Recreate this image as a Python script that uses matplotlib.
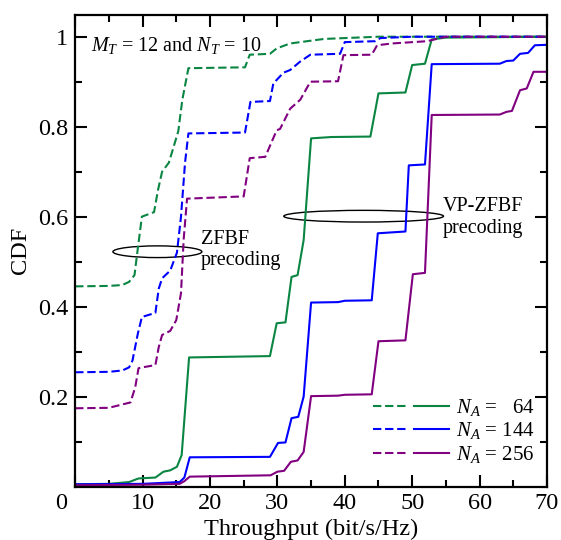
import matplotlib
matplotlib.use("Agg")
import matplotlib.pyplot as plt
from matplotlib.patches import Ellipse
from matplotlib.legend_handler import HandlerTuple
from matplotlib.transforms import ScaledTranslation

plt.rcParams['font.family'] = ['Liberation Serif', 'DejaVu Serif']
plt.rcParams['mathtext.fontset'] = 'custom'
plt.rcParams['mathtext.rm'] = 'Liberation Serif'
plt.rcParams['mathtext.it'] = 'Liberation Serif:italic'

# ---------------- data ----------------
zf64_x = [0, 5, 7, 8, 8.8, 9.3, 9.9, 11.7, 12.3, 12.9, 13.9, 14.5, 15.3, 15.9, 16.8,
          25.2, 25.9, 28.9, 29.9, 31.9, 33.4, 36.9, 40, 45, 70]
zf64_y = [.445, .446, .448, .455, .47, .53, .60, .61, .66, .70, .72, .75, .79, .86, .93,
          .932, .96, .962, .974, .985, .988, .995, .997, 1, 1]

zf144_x = [0, 5, 7, 8, 8.5, 9.3, 9.9, 11.9, 12.4, 12.9, 14.1, 15.1, 15.7, 16.3, 16.8,
           25.2, 26, 28.9, 29.4, 30.9, 31.9, 33.4, 34.9, 39.3, 40, 44.5, 45.3, 50, 70]
zf144_y = [.254, .255, .258, .265, .28, .34, .377, .386, .44, .463, .48, .52, .6, .72, .785,
           .787, .855, .857, .896, .92, .926, .945, .96, .962, .988, .99, .997, 1, 1]

zf256_x = [0, 5, 8.2, 8.9, 9.4, 10, 11.9, 12.4, 12.9, 14.1, 15, 15.7, 16.1, 16.6,
           25, 25.9, 28.2, 29.9, 30.4, 31.9, 33.4, 34.9, 39, 39.8, 44, 44.8, 47, 52.2, 55, 70]
zf256_y = [.174, .175, .187, .22, .263, .265, .27, .31, .337, .346, .37, .43, .55, .64,
           .645, .73, .733, .792, .795, .84, .86, .9, .901, .959, .96, .981, .985, .99, 1, 1]

vp64_x = [0, 5, 8, 9.4, 11.9, 13.1, 14.1, 15.1, 15.8, 16.9, 28.9, 29.9, 31.2, 32.1, 33,
          33.9, 35, 38, 43.8, 45, 49, 50, 51.9, 52.9, 55, 70]
vp64_y = [.005, .006, .01, .018, .02, .033, .036, .044, .07, .287, .29, .363, .365, .466, .47,
          .548, .774, .777, .778, .874, .876, .937, .94, .994, .998, 1]

vp144_x = [0, 10, 15.5, 16.2, 17, 28.9, 30.1, 31.2, 32.1, 33.1, 33.9, 35, 39, 40, 44,
           44.9, 49, 49.5, 51.9, 52.9, 63, 64, 65, 66, 67.2, 68.2, 70]
vp144_y = [.005, .006, .01, .02, .065, .066, .097, .098, .152, .155, .2, .409, .41, .413, .414,
           .563, .567, .714, .716, .939, .94, .946, .947, .962, .964, .981, .982]

vp256_x = [0, 10, 15.5, 16.2, 17, 29, 30, 31, 32, 33, 33.9, 35, 39, 40, 44,
           45, 49, 50.1, 51.9, 52.9, 63, 64, 64.8, 66, 67, 68, 70]
vp256_y = [.003, .004, .006, .012, .022, .025, .033, .035, .055, .058, .077, .201, .202, .204, .205,
           .323, .325, .472, .475, .826, .827, .833, .835, .881, .885, .922, .922]

labels = ['$N_A$ =   64', '$N_A$ = 144', '$N_A$ = 256']
colors = ['#0a8542', '#0000ff', '#800080']

xticks = [0, 10, 20, 30, 40, 50, 60, 70]
yticks = [0.2, 0.4, 0.6, 0.8, 1.0]
yticklabels = ['0.2', '0.4', '0.6', '0.8', '1']

# ---------------- figure ----------------
fig = plt.figure(figsize=(5.61, 5.40), dpi=100)
ax = fig.add_axes([0.134, 0.099, 0.841, 0.873])

dash = (4, 1.8)
lw = 1.5
zf = [(zf64_x, zf64_y), (zf144_x, zf144_y), (zf256_x, zf256_y)]
vp = [(vp64_x, vp64_y), (vp144_x, vp144_y), (vp256_x, vp256_y)]
handles = []
for (zx, zy), (vx, vy), c in zip(zf, vp, colors):
    l1, = ax.plot(zx, zy, color=c, lw=lw, ls=(0, dash))
    l2, = ax.plot(vx, vy, color=c, lw=lw, ls='-')
    handles.append((l1, l2))

ax.set_xlim(0, 70)
ax.set_ylim(0, 1.048)
ax.set_xticks(xticks)
ax.set_xticks([5, 15, 25, 35, 45, 55, 65], minor=True)
ax.set_yticks(yticks)
ax.set_yticklabels(yticklabels)
ax.set_yticks([0.1, 0.3, 0.5, 0.7, 0.9], minor=True)
ax.tick_params(which='both', direction='in', top=True, right=True, width=1.5,
               labelsize=17.5)
ax.tick_params(which='major', length=8.5, pad=5)
ax.tick_params(which='minor', length=5)
for s in ax.spines.values():
    s.set_linewidth(1.6)

ax.set_xlabel('Throughput (bit/s/Hz)', fontsize=17.5, labelpad=3)
ax.set_ylabel('CDF', fontsize=17.5, labelpad=5)

# shift the origin "0" label slightly left
t0 = ax.xaxis.get_major_ticks()[0].label1
t0.set_transform(t0.get_transform() + ScaledTranslation(-0.14, 0, fig.dpi_scale_trans))

# annotations
ax.add_patch(Ellipse((12.2, 0.522), 13.2, 0.026, fill=False, lw=1.0, ec='black'))
ax.add_patch(Ellipse((42.8, 0.601), 23.7, 0.026, fill=False, lw=1.0, ec='black'))
ax.text(18.6, 0.526, 'ZFBF\nprecoding', fontsize=14.5, ha='left', va='center', linespacing=1.15)
ax.text(54.5, 0.598, 'VP-ZFBF\nprecoding', fontsize=14.5, ha='left', va='center', linespacing=1.15)
ax.text(2.4, 0.981, '$M_T$ = 12 and $N_T$ = 10', fontsize=14.5, ha='left', va='center')

leg = ax.legend(handles, labels, handler_map={tuple: HandlerTuple(ndivide=2, pad=0.3)},
                loc='upper left', bbox_to_anchor=(0.631, 0.19), frameon=False,
                fontsize=15, handlelength=3.65, handletextpad=0.35, labelspacing=0.12,
                borderpad=0, borderaxespad=0)

fig.savefig('out.png', dpi=100)
